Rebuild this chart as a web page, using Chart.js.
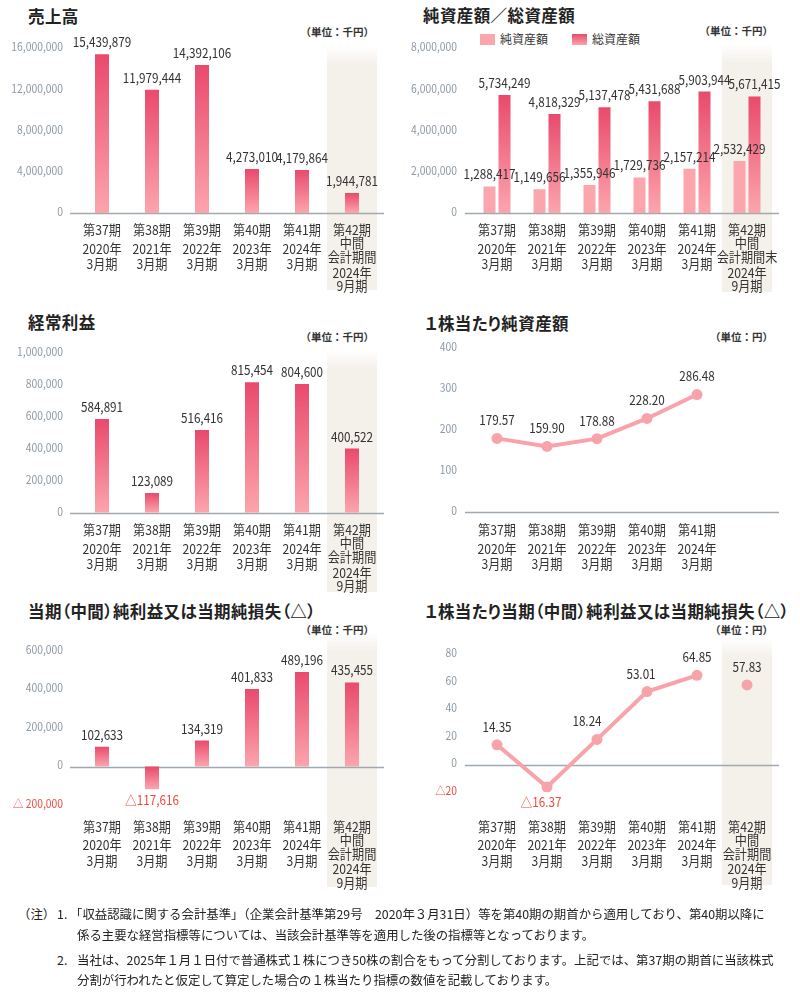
<!DOCTYPE html>
<html lang="ja">
<head>
<meta charset="utf-8">
<script src="https://cdn.jsdelivr.net/npm/chart.js@4.4.1/dist/chart.umd.min.js"></script>
<style>
    body { margin: 0; width: 800px; height: 999px; background: #fff; position: relative; font-family: 'Noto Sans CJK JP', sans-serif; color: #222; overflow: hidden; }
    canvas { position: absolute; }
    .title { position: absolute; font-size: 16.5px; letter-spacing: 0.4px; font-weight: bold; line-height: 1; white-space: nowrap; font-feature-settings: "palt"; color: #222; }
    .unit { position: absolute; font-size: 10.5px; font-weight: bold; line-height: 1; white-space: nowrap; color: #333; }
    .legend { position: absolute; top: 33px; font-size: 12px; line-height: 1; white-space: nowrap; color: #333; }
    .legend i { display: inline-block; width: 15px; height: 11px; vertical-align: -1px; margin-right: 5px; }
    .note { position: absolute; font-size: 12.4px; line-height: 1; white-space: nowrap; color: #222; }
</style>
</head>
<body>

<div class="title" style="left:28px;top:8px">売上高</div>
<div class="unit" style="right:426px;top:27px">（単位：千円）</div>
<div class="title" style="left:423px;top:7px">純資産額／総資産額</div>
<div class="unit" style="right:27px;top:26px">（単位：千円）</div>
<div class="legend" style="left:480px"><i style="background:#fba6ad"></i>純資産額</div>
<div class="legend" style="left:572px"><i style="background:linear-gradient(#e94a6b,#fca5ad)"></i>総資産額</div>

<div class="title" style="left:28px;top:314px">経常利益</div>
<div class="unit" style="right:426px;top:332px">（単位：千円）</div>
<div class="title" style="left:425px;top:315px">１株当たり純資産額</div>
<div class="unit" style="right:27px;top:332px">（単位：円）</div>

<div class="title" style="left:28px;top:603px">当期（中間）純利益又は当期純損失（△）</div>
<div class="unit" style="right:426px;top:625px">（単位：千円）</div>
<div class="title" style="left:425px;top:603px">１株当たり当期（中間）純利益又は当期純損失（△）</div>
<div class="unit" style="right:27px;top:625px">（単位：円）</div>

<canvas id="chartVentas" width="395" height="300" style="left:0;top:0"></canvas>
<canvas id="chartActivos" width="395" height="300" style="left:400px;top:0"></canvas>
<canvas id="chartOrdinario" width="395" height="300" style="left:0;top:300px"></canvas>
<canvas id="chartBps" width="395" height="300" style="left:400px;top:300px"></canvas>
<canvas id="chartNeto" width="395" height="320" style="left:0;top:580px"></canvas>
<canvas id="chartEps" width="395" height="320" style="left:400px;top:580px"></canvas>

<div class="note" style="left:18px;top:908px">（注）</div>
<div class="note" style="left:57px;top:908px">1.</div>
<div class="note" style="left:70px;top:908px">「収益認識に関する会計基準」（企業会計基準第29号　2020年３月31日）等を第40期の期首から適用しており、第40期以降に</div>
<div class="note" style="left:77px;top:929px">係る主要な経営指標等については、当該会計基準等を適用した後の指標等となっております。</div>
<div class="note" style="left:57px;top:954px">2.</div>
<div class="note" style="left:77px;top:954px">当社は、2025年１月１日付で普通株式１株につき50株の割合をもって分割しております。上記では、第37期の期首に当該株式</div>
<div class="note" style="left:77px;top:974px">分割が行われたと仮定して算定した場合の１株当たり指標の数値を記載しております。</div>

<script>
// ===== DATOS =====
const labelsPeriodos = [
    ['第37期', '2020年', '3月期'],
    ['第38期', '2021年', '3月期'],
    ['第39期', '2022年', '3月期'],
    ['第40期', '2023年', '3月期'],
    ['第41期', '2024年', '3月期'],
    ['第42期', '中間', '会計期間', '2024年', '9月期']
];
const labelsActivos = labelsPeriodos.slice(0, 5).concat([['第42期', '中間', '会計期間末', '2024年', '9月期']]);
const labelsPorAccion = labelsPeriodos.slice(0, 5).concat([[]]);

const ventas = [15439879, 11979444, 14392106, 4273010, 4179864, 1944781];
const activosNetos = [1288417, 1149656, 1355946, 1729736, 2157214, 2532429];
const activosTotales = [5734249, 4818329, 5137478, 5431688, 5903944, 5671415];
const utilidadOrdinaria = [584891, 123089, 516416, 815454, 804600, 400522];
const bps = [179.57, 159.90, 178.88, 228.20, 286.48];
const utilidadNeta = [102633, -117616, 134319, 401833, 489196, 435455];
const eps = [14.35, -16.37, 18.24, 53.01, 64.85];
const epsIntermedio = 57.83;

// ===== ESTILOS =====
const ROJO = '#f04a3e';
const GRIS_TICK = '#8d99a5';
const ROSA = '#f8a3aa';
const FUENTE = "'Noto Sans CJK JP', sans-serif";
const ESCALA_X = 0.9;   // texto condensado

function formatoMiles(v, prefijo) {
    const txt = Math.abs(v).toLocaleString('en-US');
    return v < 0 ? prefijo + txt : txt;
}

// Dibuja texto comprimido horizontalmente
function textoAngosto(ctx, txt, x, y, align) {
    ctx.save();
    ctx.translate(x, y);
    ctx.scale(ESCALA_X, 1);
    ctx.textAlign = align;
    ctx.fillText(txt, 0, 0);
    ctx.restore();
}

// Degradado vertical por barra
function rellenoBarra(context) {
    const chart = context.chart;
    const y = chart.scales.y;
    const v = context.raw;
    if (!y || v == null) return '#ee6a80';
    const top = y.getPixelForValue(Math.max(v, 0));
    const bottom = y.getPixelForValue(Math.min(v, 0));
    if (!isFinite(top) || !isFinite(bottom) || top === bottom) return '#ee6a80';
    const g = chart.ctx.createLinearGradient(0, top, 0, bottom);
    g.addColorStop(0, '#e94a6b');
    g.addColorStop(1, '#fca5ad');
    return g;
}

// Plugin: columna sombreada, linea base, ticks, valores y etiquetas del eje X
const decorPlugin = {
    id: 'decor',
    beforeDatasetsDraw(chart, args, opts) {
        const { ctx, chartArea, scales: { x, y } } = chart;
        ctx.save();
        if (opts.shade) {
            const w = x.getPixelForValue(1) - x.getPixelForValue(0);
            const cx = x.getPixelForValue(5);
            const g = ctx.createLinearGradient(0, opts.shade[0], 0, opts.shade[0] + 20);
            g.addColorStop(0, 'rgba(244,240,234,0)');
            g.addColorStop(1, '#f4f0ea');
            ctx.fillStyle = g;
            ctx.fillRect(cx - w / 2, opts.shade[0], w, opts.shade[1] - opts.shade[0]);
        }
        const y0 = Math.round(y.getPixelForValue(0)) + 0.5;
        ctx.strokeStyle = '#9ea9b1';
        ctx.lineWidth = 1.3;
        ctx.beginPath();
        ctx.moveTo(chartArea.left - 7, y0);
        ctx.lineTo(chartArea.right + 7, y0);
        ctx.stroke();
        ctx.restore();
    },
    afterDatasetsDraw(chart, args, opts) {
        const { ctx, chartArea, scales: { x, y } } = chart;
        ctx.save();
        ctx.textBaseline = 'middle';

        // ticks del eje Y
        ctx.font = '11.5px ' + FUENTE;
        y.ticks.forEach(t => {
            ctx.fillStyle = t.value < 0 ? ROJO : GRIS_TICK;
            textoAngosto(ctx, t.label, chartArea.left - opts.tickPad, y.getPixelForValue(t.value) - 1.5, 'right');
        });

        // valores
        ctx.font = '13px ' + FUENTE;
        chart.data.datasets.forEach((ds, di) => {
            const meta = chart.getDatasetMeta(di);
            meta.data.forEach((el, i) => {
                const v = ds.data[i];
                if (v == null) return;
                const txt = opts.decimals ? Math.abs(v).toFixed(opts.decimals) : Math.abs(v).toLocaleString('en-US');
                const dx = (opts.labelDx && di === 0) ? (opts.labelDx[i] || 0) : 0;
                let ly;
                if (meta.type === 'bar') {
                    ly = v >= 0 ? el.y - 12 : el.y + 11;
                } else {
                    ly = v >= 0 ? el.y - 18 : el.y + 15;
                }
                ctx.fillStyle = v < 0 ? ROJO : '#333';
                textoAngosto(ctx, v < 0 ? '△' + txt : txt, el.x + dx, ly, 'center');
            });
        });

        // etiquetas eje X
        ctx.font = '13.5px ' + FUENTE;
        ctx.fillStyle = '#333';
        chart.data.labels.forEach((lineas, i) => {
            const px = x.getPixelForValue(i);
            const offs = lineas.length > 3 ? [0, 13, 27, 42.5, 56] : [0, 18.5, 34];
            lineas.forEach((t, k) => textoAngosto(ctx, t, px, opts.labelY + offs[k], 'center'));
        });
        ctx.restore();
    }
};

function opcionesBase(canvas, area, rango, fmt, decor) {
    return {
        responsive: false,
        animation: false,
        devicePixelRatio: 1,
        layout: { padding: { left: 0, top: area.top, right: canvas.width - area.right, bottom: 0 } },
        scales: {
            x: {
                offset: true,
                afterFit: s => { s.height = canvas.height - area.bottom; },
                grid: { display: false },
                border: { display: false },
                ticks: { display: false }
            },
            y: {
                min: rango[0],
                max: rango[1],
                afterFit: s => { s.width = area.left; },
                grid: { display: false, drawTicks: false },
                border: { display: false },
                ticks: { display: false, stepSize: rango[2], callback: fmt }
            }
        },
        plugins: {
            legend: { display: false },
            tooltip: { enabled: false },
            decor: decor
        }
    };
}

function barraSimple(id, labels, valores, area, rango, shade, labelY) {
    const canvas = document.getElementById(id);
    return new Chart(canvas, {
        type: 'bar',
        data: {
            labels: labels,
            datasets: [{ data: valores, backgroundColor: rellenoBarra, categoryPercentage: 0.28, barPercentage: 1 }]
        },
        options: opcionesBase(canvas, area, rango, v => formatoMiles(v, '△ '), { shade: shade, labelY: labelY, tickPad: 14 }),
        plugins: [decorPlugin]
    });
}

document.addEventListener('DOMContentLoaded', function() {
    // 売上高
    barraSimple('chartVentas', labelsPeriodos, ventas,
        { left: 77, right: 377, top: 48.5, bottom: 213 }, [0, 16000000, 4000000], [46, 290], 230);

    // 純資産額／総資産額
    const cA = document.getElementById('chartActivos');
    new Chart(cA, {
        type: 'bar',
        data: {
            labels: labelsActivos,
            datasets: [
                { label: '純資産額', data: activosNetos, backgroundColor: '#fba6ad', categoryPercentage: 0.6, barPercentage: 0.8 },
                { label: '総資産額', data: activosTotales, backgroundColor: rellenoBarra, categoryPercentage: 0.6, barPercentage: 0.8 }
            ]
        },
        options: opcionesBase(cA, { left: 72, right: 372, top: 48.5, bottom: 213 }, [0, 8000000, 2000000],
            v => formatoMiles(v, '△ '), { shade: [44, 292], labelY: 230, tickPad: 15 }),
        plugins: [decorPlugin]
    });

    // 経常利益
    barraSimple('chartOrdinario', labelsPeriodos, utilidadOrdinaria,
        { left: 77, right: 377, top: 52.7, bottom: 212.7 }, [0, 1000000, 200000], [50, 292], 230);

    // 1株当たり純資産額
    const cB = document.getElementById('chartBps');
    new Chart(cB, {
        type: 'line',
        data: {
            labels: labelsPorAccion,
            datasets: [{ data: bps, borderColor: ROSA, borderWidth: 4, pointRadius: 5.5, pointBackgroundColor: ROSA, pointBorderWidth: 0 }]
        },
        options: opcionesBase(cB, { left: 72, right: 372, top: 48, bottom: 212 }, [0, 400, 100],
            v => String(v), { labelY: 230, decimals: 2, tickPad: 15 }),
        plugins: [decorPlugin]
    });

    // 当期（中間）純利益又は当期純損失
    barraSimple('chartNeto', labelsPeriodos, utilidadNeta,
        { left: 77, right: 377, top: 70.7, bottom: 225.1 }, [-200000, 600000, 200000], [52, 307], 246.5);

    // 1株当たり当期純利益
    const cE = document.getElementById('chartEps');
    new Chart(cE, {
        type: 'line',
        data: {
            labels: labelsPeriodos,
            datasets: [
                { data: eps, borderColor: ROSA, borderWidth: 4, pointRadius: 5.5, pointBackgroundColor: ROSA, pointBorderWidth: 0 },
                { data: eps.map(() => null).concat([epsIntermedio]), showLine: false, pointRadius: 5.5, pointBackgroundColor: ROSA, pointBorderWidth: 0 }
            ]
        },
        options: opcionesBase(cE, { left: 72, right: 372, top: 74.5, bottom: 212 }, [-20, 80, 20],
            v => v < 0 ? '△' + Math.abs(v) : String(v),
            { shade: [58, 305], labelY: 246.5, decimals: 2, labelDx: [0, -6, -10, -6, 0], tickPad: 15 }),
        plugins: [decorPlugin]
    });
});
</script>
</body>
</html>
